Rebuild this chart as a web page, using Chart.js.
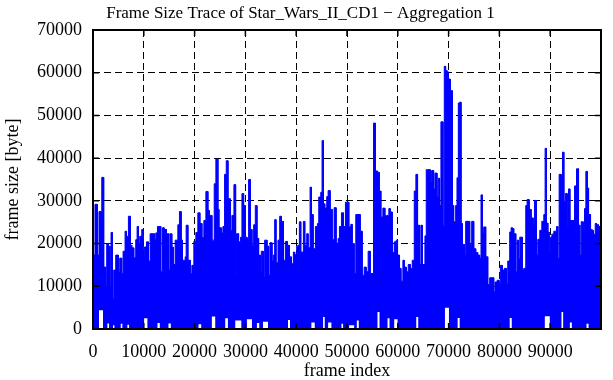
<!DOCTYPE html>
<html>
<head>
<meta charset="utf-8">
<title>Frame Size Trace</title>
<script src="https://cdn.jsdelivr.net/npm/chart.js@4.4.1/dist/chart.umd.min.js"></script>
<style>
    html, body { margin: 0; padding: 0; background: #fff; }
</style>
</head>
<body>
<canvas id="trace" width="613" height="380"></canvas>
<script>
// Upper envelope of the trace (frame index where a level starts, frame size in byte)
const upperFrames = [
    0, 390, 850, 1180, 1640, 1770, 2100, 2500, 2700, 3020, 3350, 3550, 3810, 4080, 4470, 5000, 5260, 5650, 5920, 6310,
    6570, 6970, 7360, 7630, 8020, 8410, 8680, 8940, 9200, 9600, 9860, 10120, 10520, 10910, 11240, 12090, 12360, 12690, 13340, 13670,
    14000, 14460, 14860, 15120, 15510, 15780,
    16170, 16700, 17020, 17350, 17620, 18140, 18340, 18670, 19130, 19460, 19850, 20250, 20640, 21030, 21430, 21820, 22220, 22610, 22870, 23400,
    23860, 24190, 24580, 24780, 25240, 25570, 25900, 26230, 26560, 27020, 27340, 27740, 28070, 28260, 28660, 29050, 29320, 29650, 29970, 30300,
    30630, 30960, 31290, 31620, 31950, 32270, 32600, 32930,
    33130, 33520, 33790, 34250, 34580, 34840, 35230, 35500, 35760, 36020, 36420, 36750, 37070, 37470, 37860, 38260, 38650, 39050, 39440, 39700,
    40100, 40360, 40620, 40890, 41410, 41680, 42070, 42330, 42730, 42990, 43320, 43780, 44170, 44440, 44830, 45090, 45360, 45620, 46010, 46280,
    46670, 47070, 47460, 47850, 48250, 48510, 48910, 49300, 49690,
    50090, 50350, 50750, 51010, 51400, 51730, 52590, 52980, 53380, 53770, 54160, 54560, 55220, 55610, 56000, 56330, 56660, 57060, 57450, 57850,
    58240, 58500, 58900, 59290, 59690, 59950, 60340, 60610, 61000, 61260, 61660, 62050, 62450, 62840, 63240, 63560, 63890, 64290, 64550, 64810,
    65340, 65600, 66390, 66650,
    67050, 67310, 67710, 67970, 68230, 68490, 68890, 69150, 69410, 69680, 69940, 70340, 70730, 70990, 71390, 71650, 71910, 72180, 72440, 72700,
    73100, 73360, 74150, 74540, 74940, 75330, 75720, 76120, 76380, 76650, 76910, 77300, 77700, 78090, 78880, 79140, 79540, 79930, 80190, 80590,
    80980, 81380, 81640, 82030, 82300, 82560, 82820, 83220, 83480, 83740,
    84010, 84530, 84800, 85190, 85450, 85850, 86240, 86640, 86900, 87290, 87560, 87950, 88350, 88740, 89000, 89270, 89530, 89790, 90050, 90320,
    90710, 91240, 91500, 91760, 92160, 92420, 92680, 92950, 93340, 93600, 93870, 94790, 95180, 95580, 95840, 96100, 96500, 96760, 97020, 97290,
    97550, 97940, 98210, 98470, 98860, 99130, 99520, 100000
];
const upperSizes = [
    17300, 29200, 17300, 27500, 30100, 35500, 14500, 9900, 20000, 19400, 9900, 22600, 7200, 13800, 17300, 13400, 16600, 13000, 18200, 22900,
    21700, 26400, 19600, 19000, 16700, 20900, 24000, 20000, 21700, 23300, 17100, 19200, 20400, 15900, 22300, 21000, 22500, 24000, 13400, 23700,
    23300, 22300, 13800, 22300, 19200, 15100,
    20800, 24400, 27500, 20800, 16100, 16900, 24300, 16100, 13000, 14900, 20500, 22600, 27200, 24700, 21400, 25400, 32200, 27800, 26600, 20800,
    34000, 39800, 28000, 23700, 22500, 24000, 36200, 39400, 30500, 23100, 26600, 33800, 13000, 22300, 20400, 21500, 31700, 28900, 21500, 21200,
    35000, 23300, 19600, 24400, 28900, 21200, 17300, 13400,
    18200, 12200, 20800, 19400, 12600, 20200, 15900, 17300, 25600, 15500, 20800, 26400, 25200, 16100, 20500, 19600, 16900, 15300, 18000, 17400,
    19400, 19600, 25100, 18000, 25200, 19600, 22300, 19000, 33200, 26800, 18800, 24000, 24700, 30900, 32000, 44100, 29300, 28300, 31000, 32400,
    28000, 20900, 28400, 20100, 21200, 24000, 27200, 24000, 29700,
    29700, 23900, 24500, 20000, 13000, 26800, 22900, 12600, 14500, 13400, 18200, 13000, 48200, 37000, 36700, 32300, 26200, 28300, 26500, 26600,
    28200, 27400, 17900, 20400, 20800, 17300, 14200, 11200, 16100, 14500, 13400, 15100, 14200, 16100, 32300, 36200, 24300, 15100, 24300, 15100,
    21800, 37300, 34500, 37100,
    32800, 36500, 30900, 35300, 28900, 48500, 24300, 61500, 60500, 60200, 58500, 55800, 28900, 25100, 28900, 35400, 52900, 53100, 24700, 19800,
    17300, 25200, 19800, 25200, 18800, 17900, 17300, 16500, 31400, 22500, 23900, 16900, 10400, 12000, 8700, 11000, 11400, 10300, 14900, 13800,
    14200, 10700, 15900, 22700, 23700, 23500, 22300, 13400, 20800, 16500,
    21500, 13900, 14200, 28900, 30300, 28000, 26000, 24500, 30100, 17300, 21000, 23100, 25200, 26800, 42300, 24800, 22700, 18000, 21500, 22200,
    22900, 24000, 16500, 36200, 30500, 41400, 29900, 31700, 24300, 32800, 25400, 33500, 37500, 24300, 17300, 25100, 22700, 28200, 36900, 33000,
    26800, 23300, 23100, 22200, 24700, 24400, 24000, 24000
];

// Small frames near the bottom (white notches under the trace)
const lowerFrames = [
    0, 1180, 1970, 2830, 3160, 3940, 4210, 5460, 5780, 6770, 7100, 10060, 10710, 12690, 13150, 14860, 15320,
    20770, 21300, 23400, 24060, 26030, 26560, 28000, 29190, 30300, 31290, 32270, 32730,
    33460, 34450, 38390, 38780, 42990, 43650, 45290, 45620, 46280, 46930, 48910, 49230,
    50420, 51400, 51930, 52320, 56000, 56400, 57980, 58370, 59290, 59950, 63630, 64020,
    69280, 70070, 71780, 72180, 82030, 82430,
    88940, 89920, 92220, 92550, 93870, 94260, 97150, 97550, 100000
];
const lowerSizes = [
    0, 4400, 0, 1300, 0, 900, 0, 1200, 0, 1000, 0, 2500, 0, 1400, 0, 1300, 0,
    1100, 0, 2900, 0, 2500, 0, 2000, 0, 2300, 0, 1400, 0,
    1700, 0, 2100, 0, 1500, 0, 2800, 0, 1500, 0, 1200, 0,
    900, 0, 2000, 0, 4000, 0, 2500, 0, 2300, 0, 2800, 0,
    5000, 0, 2600, 0, 2600, 0,
    3000, 0, 4000, 0, 1500, 0, 1200, 0, 0
];

const yTickStep = 10000;
const xTickStep = 10000;

const serif = "'Liberation Serif', 'Times New Roman', serif";
Chart.defaults.color = '#000';
Chart.defaults.font.family = serif;

// each level holds until the next frame index: add the corner point explicitly
const stepPoints = (xs, ys) => {
    const pts = [];
    xs.forEach((x, i) => {
        pts.push({ x: x, y: ys[i] });
        if (i + 1 < xs.length) pts.push({ x: xs[i + 1], y: ys[i] });
    });
    return pts;
};

// gnuplot style: solid border and inward ticks on all four sides
const gnuplotFrame = {
    id: 'gnuplotFrame',
    afterDatasetsDraw(chart) {
        const { ctx, chartArea: a, scales } = chart;
        ctx.save();
        ctx.strokeStyle = '#000';
        ctx.lineWidth = 1.5;
        ctx.beginPath();
        scales.x.ticks.forEach(t => {
            const px = scales.x.getPixelForValue(t.value);
            ctx.moveTo(px, a.bottom);
            ctx.lineTo(px, a.bottom - 6);
            ctx.moveTo(px, a.top);
            ctx.lineTo(px, a.top + 6);
        });
        scales.y.ticks.forEach(t => {
            const py = scales.y.getPixelForValue(t.value);
            ctx.moveTo(a.left, py);
            ctx.lineTo(a.left + 6, py);
            ctx.moveTo(a.right, py);
            ctx.lineTo(a.right - 6, py);
        });
        ctx.stroke();
        ctx.lineWidth = 2;
        ctx.strokeRect(a.left, a.top, a.right - a.left, a.bottom - a.top);
        ctx.restore();
    }
};

new Chart(document.getElementById('trace'), {
    type: 'line',
    data: {
        datasets: [
            {
                label: 'small frames',
                data: stepPoints(lowerFrames, lowerSizes),
                fill: 'origin',
                backgroundColor: '#ffffff',
                borderWidth: 0,
                pointRadius: 0,
                tension: 0,
                order: 1
            },
            {
                label: 'frame size',
                data: stepPoints(upperFrames, upperSizes),
                fill: 'origin',
                backgroundColor: '#0000ff',
                borderColor: '#0000ff',
                borderWidth: 1,
                pointRadius: 0,
                tension: 0,
                order: 2
            }
        ]
    },
    options: {
        responsive: false,
        animation: false,
        devicePixelRatio: 1,
        layout: { padding: { left: 0, right: 12, top: 0, bottom: 0 } },
        plugins: {
            legend: { display: false },
            tooltip: { enabled: false },
            title: {
                display: true,
                text: 'Frame Size Trace of Star_Wars_II_CD1 \u2212 Aggregation 1',
                color: '#000',
                font: { size: 17, weight: 'normal' },
                padding: { top: 3, bottom: 6.6 }
            }
        },
        scales: {
            x: {
                type: 'linear',
                min: 0,
                max: 100000,
                afterFit: s => { s.height = 51; },
                ticks: {
                    stepSize: xTickStep,
                    autoSkip: false,
                    maxRotation: 0,
                    minRotation: 0,
                    padding: 12,
                    font: { size: 18 },
                    callback: v => (v >= 100000 ? '' : String(v))
                },
                grid: { color: '#000', lineWidth: 1, drawTicks: false },
                border: { display: false, dash: [7, 4] },
                title: { display: true, text: 'frame index', font: { size: 18, lineHeight: 1 }, padding: 0 }
            },
            y: {
                min: 0,
                max: 70000,
                afterFit: s => { s.width = 93; },
                ticks: {
                    stepSize: yTickStep,
                    padding: 11,
                    font: { size: 18 },
                    callback: v => String(v)
                },
                grid: { color: '#000', lineWidth: 1, drawTicks: false },
                border: { display: false, dash: [7, 4] },
                title: { display: true, text: 'frame size [byte]', font: { size: 18, lineHeight: 1 }, padding: { top: 4, bottom: 0 } }
            }
        }
    },
    plugins: [gnuplotFrame]
});
</script>
</body>
</html>
